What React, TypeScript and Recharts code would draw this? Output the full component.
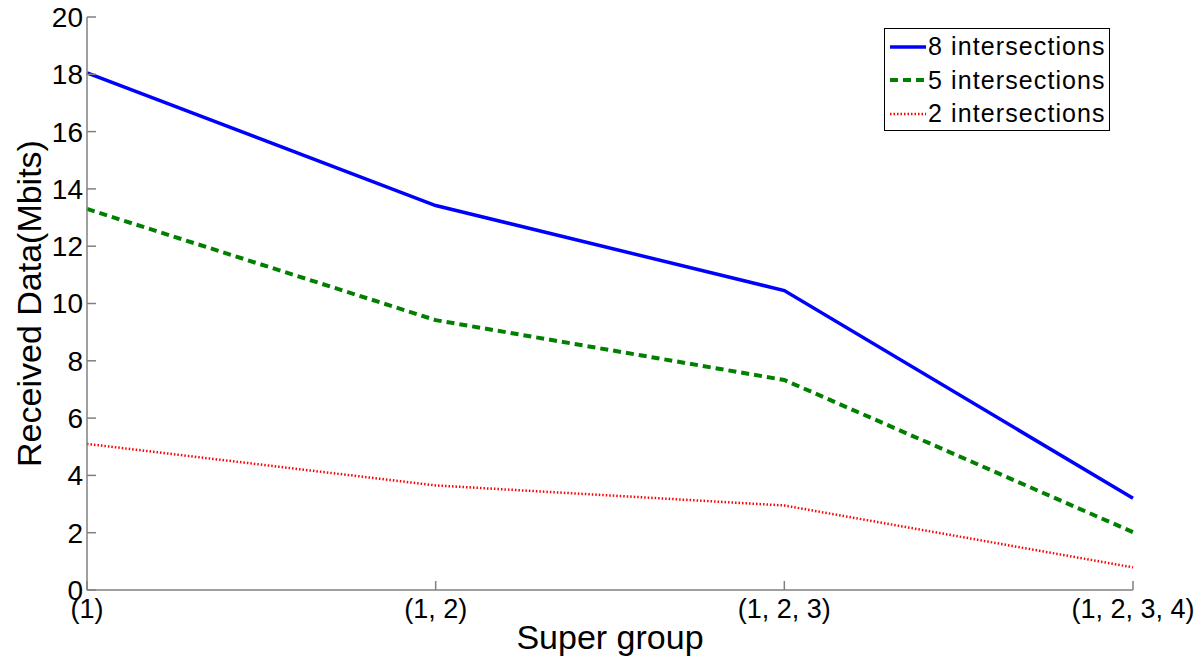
import React from 'react';
import { LineChart, Line, XAxis, YAxis, Legend, Label } from 'recharts';

const groups = ['(1)', '(1, 2)', '(1, 2, 3)', '(1, 2, 3, 4)'];
const eightIntersections = [18.05, 13.42, 10.45, 3.2];
const fiveIntersections = [13.3, 9.42, 7.33, 2.02];
const twoIntersections = [5.1, 3.65, 2.95, 0.79];
const yTicks = [0, 2, 4, 6, 8, 10, 12, 14, 16, 18, 20];

const seriesInfo = [
  { key: 'eight', name: '8 intersections', color: '#0000ff', dash: undefined as string | undefined, width: 3.5 },
  { key: 'five', name: '5 intersections', color: '#007f00', dash: '8 5', width: 4 },
  { key: 'two', name: '2 intersections', color: '#ff0000', dash: '1.5 2', width: 2.5 },
];

const data = groups.map((g, i) => ({
  group: g,
  eight: eightIntersections[i],
  five: fiveIntersections[i],
  two: twoIntersections[i],
}));

const FONT = '"Liberation Sans", Arial, Helvetica, sans-serif';
const AXIS = '#808080';

const renderLegend = () => (
  <div
    style={{
      boxSizing: 'border-box',
      width: 226,
      height: 103,
      border: '1px solid #000',
      background: '#fff',
      padding: '1px 0 0 5px',
      fontFamily: FONT,
    }}
  >
    {seriesInfo.map((s) => (
      <div key={s.key} style={{ display: 'flex', alignItems: 'center', height: 33.5 }}>
        <svg width={36} height={10} style={{ display: 'block' }}>
          <line x1={0} y1={5} x2={36} y2={5} stroke={s.color} strokeWidth={s.width} strokeDasharray={s.dash} />
        </svg>
        <span style={{ fontSize: 25, letterSpacing: 1.1, marginLeft: 2, color: '#000', lineHeight: '33px' }}>{s.name}</span>
      </div>
    ))}
  </div>
);

export default function App() {
  return (
    <div style={{ position: 'absolute', left: 0, top: 0, width: 1200, height: 662, background: '#fff' }}>
      <LineChart
        width={1200}
        height={662}
        data={data}
        margin={{ top: 17, right: 67, bottom: 0, left: 0 }}
        style={{ fontFamily: FONT }}
      >
        <XAxis
          dataKey="group"
          height={72}
          tickSize={-9}
          tickMargin={18}
          stroke={AXIS}
          strokeWidth={1.5}
          tick={{ fill: '#000', fontSize: 27 }}
          interval={0}
        >
          <Label value="Super group" position="center" dy={11} style={{ fontSize: 34, fill: '#000' }} />
        </XAxis>
        <XAxis
          xAxisId="top"
          dataKey="group"
          orientation="top"
          height={0}
          tickSize={-9}
          tick={false}
          stroke={AXIS}
          strokeWidth={1.5}
          interval={0}
        />
        <YAxis
          type="number"
          domain={[0, 20]}
          ticks={yTicks}
          width={87}
          tickSize={-9}
          tickMargin={13}
          stroke={AXIS}
          strokeWidth={1.5}
          tick={{ fill: '#000', fontSize: 28 }}
          interval={0}
        >
          <Label value="Received Data(Mbits)" angle={-90} position="center" dx={-15} style={{ fontSize: 34, fill: '#000' }} />
        </YAxis>
        <YAxis
          yAxisId="right"
          orientation="right"
          type="number"
          domain={[0, 20]}
          ticks={yTicks}
          width={0}
          tickSize={-9}
          tick={false}
          stroke={AXIS}
          strokeWidth={1.5}
          interval={0}
        />
        <Legend
          layout="vertical"
          align="center"
          verticalAlign="middle"
          content={renderLegend}
          wrapperStyle={{ position: 'absolute', left: 884, top: 28, width: 226, height: 103 }}
        />
        {seriesInfo.map((s) => (
          <Line
            key={s.key}
            type="linear"
            dataKey={s.key}
            name={s.name}
            stroke={s.color}
            strokeWidth={s.width}
            strokeDasharray={s.dash}
            dot={false}
            activeDot={false}
            isAnimationActive={false}
          />
        ))}
      </LineChart>
    </div>
  );
}
